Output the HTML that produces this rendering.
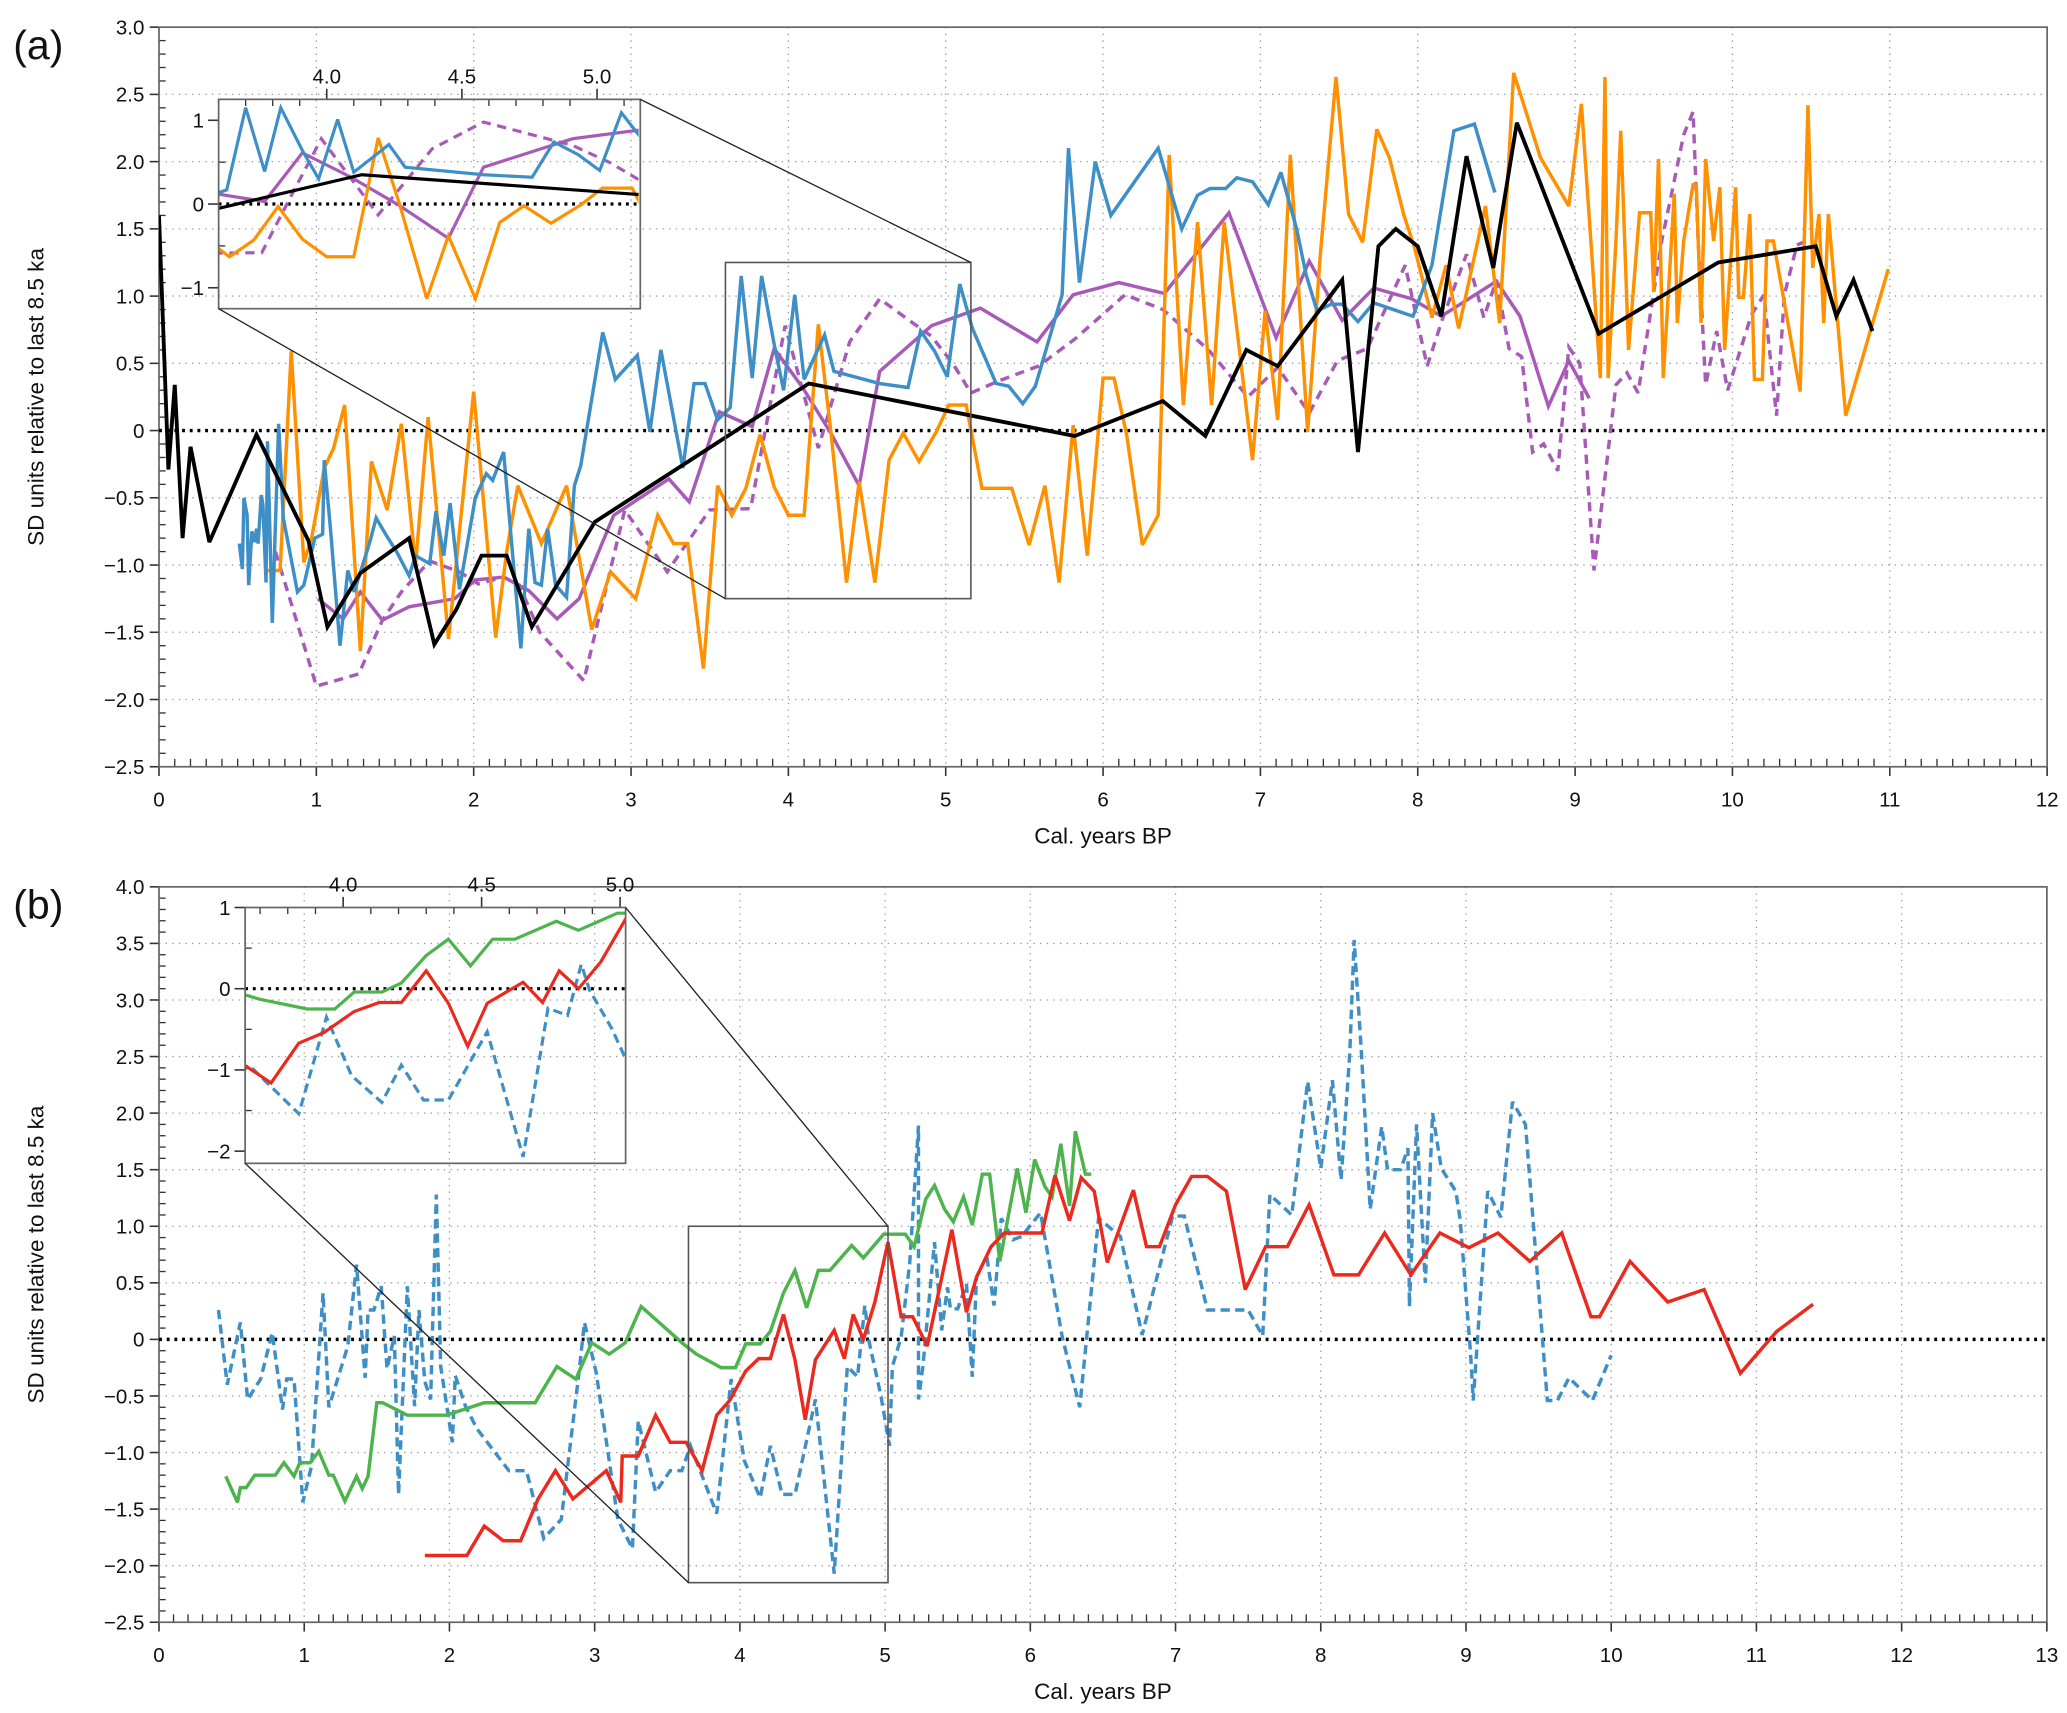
<!DOCTYPE html>
<html><head><meta charset="utf-8">
<style>
html,body{margin:0;padding:0;background:#fff;}
svg{display:block;}
text{font-family:"Liberation Sans",Arial,sans-serif;fill:#111;}
</style></head>
<body>
<svg id="chart" width="2067" height="1713" viewBox="0 0 1560 1293" preserveAspectRatio="none" xmlns="http://www.w3.org/2000/svg">
<defs>
<clipPath id="clipA"><rect x="120" y="20" width="1425" height="559"/></clipPath>
<clipPath id="clipB"><rect x="120" y="668" width="1425" height="557"/></clipPath>
<clipPath id="clipAI"><rect x="165" y="75" width="317" height="158"/></clipPath>
<clipPath id="clipBI"><rect x="185" y="685" width="287" height="193"/></clipPath>
</defs>
<g id="root"></g>
</svg>
<script>
// ---------- data: panel (a) ----------
const aXTicks = [0,1,2,3,4,5,6,7,8,9,10,11,12];
const aYTicks = [3.0,2.5,2.0,1.5,1.0,0.5,0,-0.5,-1.0,-1.5,-2.0,-2.5];
const aYLabels = ["3.0","2.5","2.0","1.5","1.0","0.5","0","\u22120.5","\u22121.0","\u22121.5","\u22122.0","\u22122.5"];
const aBlack = [[0,1.6],[0.06,-0.29],[0.1,0.34],[0.15,-0.8],[0.2,-0.12],[0.32,-0.83],[0.62,-0.03],[0.95,-0.82],[1.07,-1.46],[1.28,-1.06],[1.59,-0.8],[1.75,-1.59],[1.89,-1.33],[2.05,-0.93],[2.21,-0.93],[2.37,-1.46],[2.77,-0.68],[4.13,0.35],[5.82,-0.04],[6.38,0.22],[6.65,-0.04],[6.91,0.6],[7.11,0.48],[7.52,1.12],[7.62,-0.16],[7.75,1.37],[7.86,1.5],[8.0,1.37],[8.15,0.85],[8.31,2.04],[8.48,1.21],[8.63,2.29],[9.15,0.72],[9.91,1.25],[10.53,1.37],[10.66,0.85],[10.77,1.12],[10.89,0.74]];
const aBlue = [[0.51,-0.84],[0.53,-1.03],[0.54,-0.5],[0.56,-0.63],[0.57,-1.15],[0.59,-0.75],[0.61,-0.83],[0.62,-0.73],[0.63,-0.84],[0.65,-0.48],[0.66,-0.55],[0.68,-1.13],[0.69,-0.08],[0.72,-1.43],[0.76,0.05],[0.79,-0.65],[0.88,-1.2],[0.92,-1.15],[0.99,-0.8],[1.04,-0.77],[1.05,-0.22],[1.09,-0.73],[1.15,-1.6],[1.2,-1.04],[1.24,-1.2],[1.34,-0.83],[1.38,-0.65],[1.44,-0.77],[1.51,-0.9],[1.59,-1.08],[1.63,-0.93],[1.72,-0.99],[1.76,-0.6],[1.81,-0.93],[1.85,-0.54],[1.91,-1.18],[2.01,-0.5],[2.08,-0.32],[2.12,-0.37],[2.19,-0.16],[2.3,-1.62],[2.35,-0.73],[2.39,-1.13],[2.43,-1.15],[2.47,-0.73],[2.52,-1.15],[2.59,-1.24],[2.64,-0.41],[2.68,-0.26],[2.82,0.73],[2.9,0.38],[3.04,0.56],[3.12,-0.01],[3.19,0.6],[3.33,-0.28],[3.4,0.35],[3.47,0.35],[3.55,0.08],[3.63,0.17],[3.7,1.15],[3.77,0.39],[3.83,1.15],[3.91,0.64],[3.97,0.3],[4.04,1.01],[4.1,0.38],[4.23,0.71],[4.29,0.44],[4.58,0.35],[4.76,0.32],[4.84,0.74],[4.93,0.59],[5.01,0.4],[5.09,1.09],[5.17,0.76],[5.32,0.35],[5.4,0.33],[5.49,0.2],[5.57,0.33],[5.74,1.01],[5.78,2.1],[5.85,1.1],[5.95,2.0],[6.05,1.6],[6.35,2.1],[6.5,1.5],[6.6,1.75],[6.68,1.8],[6.78,1.8],[6.85,1.88],[6.95,1.85],[7.05,1.68],[7.13,1.92],[7.23,1.5],[7.29,1.16],[7.36,0.89],[7.45,0.94],[7.52,0.94],[7.62,0.81],[7.72,0.95],[7.97,0.85],[8.09,1.23],[8.23,2.23],[8.36,2.28],[8.49,1.77]];
const aOrange = [[0.69,-1.04],[0.77,-1.04],[0.84,0.59],[0.92,-0.98],[0.97,-0.8],[1.05,-0.28],[1.11,-0.13],[1.18,0.19],[1.28,-1.64],[1.35,-0.23],[1.45,-0.59],[1.54,0.05],[1.63,-1.0],[1.71,0.1],[1.84,-1.55],[2.0,0.29],[2.14,-1.54],[2.21,-0.9],[2.28,-0.41],[2.43,-0.84],[2.59,-0.41],[2.75,-1.48],[2.87,-1.05],[3.03,-1.25],[3.17,-0.63],[3.27,-0.84],[3.36,-0.84],[3.46,-1.77],[3.55,-0.41],[3.64,-0.63],[3.73,-0.43],[3.82,-0.03],[3.91,-0.42],[4.0,-0.63],[4.1,-0.63],[4.19,0.79],[4.27,-0.01],[4.37,-1.13],[4.45,-0.38],[4.55,-1.13],[4.64,-0.22],[4.73,-0.02],[4.83,-0.23],[4.94,-0.01],[5.02,0.19],[5.13,0.19],[5.23,-0.43],[5.42,-0.43],[5.53,-0.85],[5.63,-0.41],[5.72,-1.13],[5.81,0.04],[5.9,-0.93],[6.0,0.39],[6.07,0.39],[6.15,-0.03],[6.25,-0.85],[6.35,-0.63],[6.42,2.05],[6.51,0.19],[6.6,1.55],[6.69,0.19],[6.77,1.55],[6.95,-0.22],[7.03,0.89],[7.11,0.08],[7.19,2.05],[7.3,-0.01],[7.38,1.3],[7.48,2.63],[7.56,1.61],[7.65,1.4],[7.74,2.24],[7.82,2.03],[7.91,1.61],[7.98,1.36],[8.09,0.84],[8.18,1.23],[8.26,0.76],[8.43,1.67],[8.52,0.8],[8.61,2.66],[8.78,2.03],[8.96,1.67],[9.04,2.43],[9.16,0.39],[9.19,2.63],[9.21,0.39],[9.26,1.41],[9.29,2.23],[9.34,0.6],[9.41,1.62],[9.48,1.62],[9.5,1.03],[9.53,2.02],[9.56,0.39],[9.63,1.76],[9.65,0.8],[9.69,1.41],[9.75,1.83],[9.77,1.83],[9.8,0.8],[9.83,2.02],[9.88,1.41],[9.92,1.81],[9.95,0.6],[10.02,1.81],[10.04,0.99],[10.07,0.99],[10.11,1.61],[10.14,0.38],[10.19,0.38],[10.22,1.41],[10.26,1.41],[10.43,0.29],[10.48,2.42],[10.51,1.21],[10.55,1.61],[10.58,0.8],[10.61,1.61],[10.72,0.11],[10.99,1.2]];
const aPurple = [[1.01,-1.25],[1.17,-1.4],[1.28,-1.2],[1.42,-1.41],[1.59,-1.31],[1.88,-1.25],[2.01,-1.11],[2.19,-1.09],[2.35,-1.19],[2.53,-1.4],[2.67,-1.25],[2.89,-0.63],[3.24,-0.36],[3.37,-0.53],[3.56,0.14],[3.77,0.03],[3.91,0.61],[4.09,0.32],[4.27,-0.02],[4.45,-0.41],[4.58,0.44],[4.91,0.78],[5.22,0.91],[5.58,0.66],[5.81,1.01],[6.1,1.1],[6.39,1.02],[6.8,1.62],[7.1,0.69],[7.31,1.26],[7.52,0.82],[7.72,1.06],[7.96,0.98],[8.15,0.85],[8.5,1.11],[8.65,0.85],[8.83,0.18],[8.96,0.52],[9.09,0.24]];
const aPurpleDash = [[0.74,-0.9],[1.0,-1.9],[1.27,-1.81],[1.42,-1.41],[1.54,-1.2],[1.72,-0.97],[1.91,-1.05],[2.03,-1.14],[2.19,-1.09],[2.29,-1.15],[2.42,-1.5],[2.7,-1.86],[2.96,-0.59],[3.23,-1.05],[3.5,-0.59],[3.76,-0.58],[3.88,0.17],[3.98,0.78],[4.19,-0.13],[4.39,0.66],[4.58,0.98],[4.72,0.86],[4.91,0.7],[5.05,0.49],[5.16,0.28],[5.34,0.37],[5.59,0.48],[5.82,0.68],[6.14,1.01],[6.38,0.9],[6.67,0.6],[6.92,0.25],[7.11,0.47],[7.31,0.13],[7.49,0.52],[7.68,0.61],[7.92,1.23],[8.06,0.48],[8.16,0.84],[8.31,1.31],[8.42,0.84],[8.5,1.12],[8.58,0.61],[8.66,0.55],[8.73,-0.16],[8.8,-0.1],[8.89,-0.3],[8.96,0.62],[9.03,0.5],[9.12,-1.04],[9.26,0.34],[9.33,0.43],[9.4,0.28],[9.55,1.41],[9.62,1.8],[9.69,2.2],[9.75,2.37],[9.78,1.46],[9.83,0.34],[9.9,0.74],[9.97,0.3],[10.12,0.86],[10.2,1.01],[10.23,0.66],[10.28,0.11],[10.33,1.01],[10.41,1.38],[10.49,1.42]];
const aInsetXTicks = [4.0,4.5,5.0];
const aInsetXLabels = ["4.0","4.5","5.0"];
const aInsetYTicks = [1,0,-1];
const aInsetYLabels = ["1","0","\u22121"];
// ---------- data: panel (b) ----------
const bXTicks = [0,1,2,3,4,5,6,7,8,9,10,11,12,13];
const bYTicks = [4.0,3.5,3.0,2.5,2.0,1.5,1.0,0.5,0,-0.5,-1.0,-1.5,-2.0,-2.5];
const bYLabels = ["4.0","3.5","3.0","2.5","2.0","1.5","1.0","0.5","0","\u22120.5","\u22121.0","\u22121.5","\u22122.0","\u22122.5"];
const bGreen = [[0.46,-1.21],[0.54,-1.44],[0.56,-1.31],[0.6,-1.31],[0.66,-1.2],[0.8,-1.2],[0.86,-1.09],[0.93,-1.21],[0.97,-1.09],[1.04,-1.09],[1.1,-0.99],[1.17,-1.2],[1.2,-1.2],[1.28,-1.43],[1.36,-1.21],[1.4,-1.32],[1.44,-1.21],[1.5,-0.56],[1.54,-0.56],[1.71,-0.67],[1.98,-0.67],[2.24,-0.56],[2.59,-0.56],[2.74,-0.24],[2.87,-0.35],[2.98,-0.03],[3.1,-0.13],[3.21,-0.03],[3.32,0.29],[3.61,-0.04],[3.7,-0.13],[3.87,-0.25],[3.97,-0.25],[4.04,-0.04],[4.14,-0.04],[4.21,0.07],[4.3,0.41],[4.38,0.61],[4.46,0.28],[4.54,0.61],[4.62,0.61],[4.77,0.83],[4.85,0.72],[4.99,0.93],[5.14,0.93],[5.2,0.82],[5.28,1.24],[5.34,1.36],[5.41,1.15],[5.47,1.04],[5.54,1.26],[5.6,1.01],[5.67,1.46],[5.72,1.46],[5.79,0.69],[5.91,1.51],[5.97,1.12],[6.03,1.59],[6.1,1.35],[6.15,1.26],[6.21,1.73],[6.27,1.18],[6.31,1.84],[6.38,1.46],[6.42,1.46]];
const bRed = [[1.83,-1.91],[2.12,-1.91],[2.24,-1.65],[2.37,-1.78],[2.49,-1.78],[2.61,-1.41],[2.73,-1.16],[2.85,-1.41],[3.08,-1.16],[3.18,-1.44],[3.19,-1.03],[3.3,-1.03],[3.42,-0.67],[3.52,-0.91],[3.63,-0.91],[3.74,-1.16],[3.84,-0.67],[3.93,-0.54],[4.04,-0.28],[4.13,-0.17],[4.21,-0.17],[4.3,0.22],[4.38,-0.18],[4.45,-0.71],[4.52,-0.18],[4.65,0.08],[4.72,-0.17],[4.78,0.22],[4.85,0],[4.93,0.33],[5.02,0.86],[5.11,0.2],[5.19,0.2],[5.29,-0.06],[5.46,0.97],[5.56,0.24],[5.63,0.55],[5.73,0.82],[5.82,0.94],[6.08,0.94],[6.17,1.45],[6.27,1.05],[6.35,1.43],[6.44,1.31],[6.53,0.68],[6.71,1.32],[6.8,0.82],[6.89,0.82],[7.0,1.19],[7.11,1.44],[7.22,1.44],[7.35,1.31],[7.48,0.44],[7.62,0.82],[7.77,0.82],[7.92,1.19],[8.09,0.57],[8.26,0.57],[8.44,0.94],[8.62,0.57],[8.82,0.94],[9.02,0.81],[9.22,0.94],[9.44,0.69],[9.66,0.94],[9.86,0.2],[9.92,0.2],[10.13,0.69],[10.39,0.33],[10.64,0.44],[10.89,-0.3],[11.14,0.07],[11.39,0.31]];
const bBlueDash = [[0.41,0.26],[0.47,-0.4],[0.56,0.15],[0.61,-0.53],[0.7,-0.35],[0.78,0.06],[0.85,-0.62],[0.88,-0.35],[0.93,-0.35],[0.99,-1.44],[1.05,-1.12],[1.13,0.41],[1.17,-0.6],[1.3,-0.06],[1.36,0.66],[1.42,-0.34],[1.44,0.26],[1.48,0.26],[1.53,0.47],[1.57,-0.26],[1.62,0.03],[1.65,-1.37],[1.71,0.47],[1.76,-0.59],[1.79,0.26],[1.83,-0.37],[1.87,-0.53],[1.91,1.28],[1.94,-0.24],[2.02,-0.91],[2.04,-0.32],[2.11,-0.59],[2.19,-0.79],[2.41,-1.16],[2.53,-1.16],[2.65,-1.76],[2.77,-1.59],[2.89,-0.32],[2.93,0.15],[3.01,-0.29],[3.16,-1.59],[3.26,-1.85],[3.3,-0.72],[3.42,-1.35],[3.52,-1.16],[3.6,-1.16],[3.66,-0.94],[3.84,-1.54],[3.94,-0.35],[4.03,-1.07],[4.14,-1.4],[4.21,-0.94],[4.29,-1.37],[4.38,-1.37],[4.52,-0.53],[4.65,-2.07],[4.74,-0.24],[4.81,-0.33],[4.86,0.3],[4.89,-0.02],[4.97,-0.49],[5.03,-0.94],[5.05,-0.24],[5.11,0.02],[5.17,0.68],[5.23,1.89],[5.23,-0.53],[5.26,-0.24],[5.34,0.86],[5.39,0.08],[5.43,0.46],[5.45,0.27],[5.5,0.27],[5.56,0.49],[5.6,-0.33],[5.63,0.55],[5.7,0.74],[5.75,0.3],[5.8,1.07],[5.88,0.88],[5.94,0.91],[6.07,1.12],[6.22,0.02],[6.34,-0.6],[6.47,1.07],[6.62,0.91],[6.77,0.04],[6.98,1.09],[7.06,1.09],[7.22,0.26],[7.5,0.26],[7.6,0.03],[7.65,1.28],[7.8,1.1],[7.91,2.28],[8.0,1.51],[8.08,2.29],[8.14,1.41],[8.2,2.53],[8.23,3.53],[8.28,2.53],[8.34,1.15],[8.42,1.88],[8.46,1.5],[8.55,1.5],[8.6,1.69],[8.61,0.29],[8.66,1.9],[8.72,0.5],[8.77,2.0],[8.83,1.51],[8.93,1.31],[8.96,1.06],[9.03,-0.1],[9.05,-0.54],[9.15,1.31],[9.24,1.08],[9.32,2.1],[9.41,1.9],[9.56,-0.54],[9.63,-0.54],[9.71,-0.34],[9.87,-0.54],[10.0,-0.14]];
const bInsetXTicks = [4.0,4.5,5.0];
const bInsetXLabels = ["4.0","4.5","5.0"];
const bInsetYTicks = [1,0,-1,-2];
const bInsetYLabels = ["1","0","\u22121","\u22122"];

// ---------- axis functions ----------
const aX = x => 120 + x * 118.75;
const aY = v => 325 - v * 101.5;
const bX = x => 120 + x * 109.6;
const bY = v => 1011 - v * 85.4;
const aiX = x => 165 + (x - 3.6) * 204;
const aiY = v => 154 - v * 63.2;
const biX = x => 185 + (x - 3.646) * 209;
const biY = v => 685 + (1 - v) * 61.3;

const NS = "http://www.w3.org/2000/svg";
const root = document.getElementById("root");
function mk(tag, attrs, parent) {
  const e = document.createElementNS(NS, tag);
  for (const k in attrs) e.setAttribute(k, attrs[k]);
  (parent || root).appendChild(e);
  return e;
}
function line(x1, y1, x2, y2, stroke, sw, dash, parent) {
  const l = mk("line", {x1, y1, x2, y2, stroke, "stroke-width": sw}, parent);
  if (dash) l.setAttribute("stroke-dasharray", dash);
  return l;
}
function txt(x, y, s, size, anchor, parent) {
  const t = mk("text", {x, y, "font-size": size, "text-anchor": anchor || "middle"}, parent);
  t.textContent = s;
  return t;
}
function series(data, fx, fy, color, dash, name, parent, sw) {
  const d = data.map((p, i) => (i ? "L" : "M") + fx(p[0]).toFixed(1) + "," + fy(p[1]).toFixed(1)).join(" ");
  const p = mk("path", {d, fill: "none", stroke: color, "stroke-width": sw || 2.6, "stroke-linejoin": "miter", "stroke-miterlimit": 3}, parent);
  if (dash) p.setAttribute("stroke-dasharray", dash);
  
  
  return p;
}

const C_OR = "#ff9000", C_BL = "#3e8fc6", C_PU = "#a75bb7", C_GR = "#4db34d", C_RD = "#ea2a1e";

function panel(cfg) {
  const g = mk("g", {});
  
  
  const {X, Y, x0, x1, y0, y1} = cfg;
  const L = X(x0), R = X(x1), T = Y(y1), B = Y(y0);
  cfg.xTicks.forEach(t => { if (t > x0 && t < x1) line(X(t), T, X(t), B, "#9a9a9a", 1, "1,4", g); });
  cfg.yTicks.forEach(t => { if (t > y0 && t < y1 && t !== 0) line(L, Y(t), R, Y(t), "#9a9a9a", 1, "1,4", g); });
  for (let i = Math.round(x0 * 10); i <= Math.round(x1 * 10); i++) {
    const x = X(i / 10);
    if (i % 10 === 0) line(x, B, x, B + 7, "#333", 1.2, null, g);
    else line(x, B, x, B - 6, "#333", 1, null, g);
  }
  for (let i = Math.round(y0 * 10); i <= Math.round(y1 * 10); i++) {
    const y = Y(i / 10);
    if (i % 5 === 0) line(L - 7, y, L, y, "#333", 1.2, null, g);
    else line(L, y, L + 5, y, "#333", 1, null, g);
  }
  const fr = mk("rect", {x: L, y: T, width: R - L, height: B - T, fill: "none", stroke: "#666", "stroke-width": 1.3}, g);
  
  
  cfg.xTicks.forEach(t => {
    const e = txt(X(t), B + 30, String(t), 15.5, "middle", g);
    
    
  });
  cfg.yTicks.forEach((t, i) => {
    const e = txt(L - 11, Y(t) + 5.5, cfg.yLabels[i], 15.5, "end", g);
    
    
  });
  const xt = txt((L + R) / 2, B + 58, "Cal. years BP", 17, "middle", g);
  
  
  const yt = txt(0, 0, "SD units relative to last 8.5 ka", 17, "middle", g);
  yt.setAttribute("transform", "translate(33," + ((T + B) / 2) + ") rotate(-90)");
  
  
  const pl = txt(10, T + 24, cfg.label, 31, "start", g);
  
  
  const z = line(L, Y(0), R, Y(0), "#000", 2.6, "2.2,3.6", g);
  
  
  return g;
}

function inset(cfg) {
  const g = mk("g", {});
  
  
  const {X, Y, x0, x1, y0, y1} = cfg;
  const L = X(x0), R = X(x1), T = Y(y1), B = Y(y0);
  for (let i = Math.ceil(x0 * 10); i <= Math.floor(x1 * 10); i++) {
    const x = X(i / 10);
    if (i % 5 === 0) line(x, T - 8, x, T, "#333", 1.2, null, g);
    else line(x, T, x, T + 5, "#333", 1, null, g);
  }
  for (let i = Math.ceil(y0 * 2); i <= Math.floor(y1 * 2); i++) {
    const y = Y(i / 2);
    if (i % 2 === 0) line(L - 8, y, L, y, "#333", 1.2, null, g);
    else line(L, y, L + 5, y, "#333", 1, null, g);
  }
  cfg.xTicks.forEach((t, i) => txt(X(t), T - 12, cfg.xLabels[i], 15.5, "middle", g));
  cfg.yTicks.forEach((t, i) => txt(L - 11, Y(t) + 5.5, cfg.yLabels[i], 15.5, "end", g));
  line(L, Y(0), R, Y(0), "#000", 2.4, "2.2,3.6", g);
  const dg = mk("g", {"clip-path": "url(#" + cfg.clip + ")"}, g);
  cfg.series.forEach(s => series(s[0], X, Y, s[1], s[2], s[3] + "-inset", dg, 2.4));
  mk("rect", {x: L, y: T, width: R - L, height: B - T, fill: "none", stroke: "#666", "stroke-width": 1.3}, g);
  return {L, R, T, B};
}

// ---------- panel a ----------
panel({name: "panel-a", X: aX, Y: aY, x0: 0, x1: 12, y0: -2.5, y1: 3.0, xTicks: aXTicks, yTicks: aYTicks, yLabels: aYLabels, label: "(a)"});
const gA = mk("g", {"clip-path": "url(#clipA)"});


series(aPurpleDash, aX, aY, C_PU, "7,5", "purple-dashed-series-a", gA);
series(aPurple, aX, aY, C_PU, null, "purple-series-a", gA);
series(aOrange, aX, aY, C_OR, null, "orange-series-a", gA);
series(aBlue, aX, aY, C_BL, null, "blue-series-a", gA);
series(aBlack, aX, aY, "#000", null, "black-series-a", gA, 2.9);
const zaL = aX(3.6), zaR = aX(5.16), zaT = aY(1.25), zaB = aY(-1.25);
const za = mk("rect", {x: zaL, y: zaT, width: zaR - zaL, height: zaB - zaT, fill: "none", stroke: "#555", "stroke-width": 1.2});


const ia = inset({name: "inset-a", X: aiX, Y: aiY, x0: 3.6, x1: 5.16, y0: -1.25, y1: 1.25, clip: "clipAI",
  xTicks: aInsetXTicks, xLabels: aInsetXLabels, yTicks: aInsetYTicks, yLabels: aInsetYLabels,
  series: [[aPurpleDash, C_PU, "7,5", "purple-dashed"], [aPurple, C_PU, null, "purple"], [aOrange, C_OR, null, "orange"], [aBlue, C_BL, null, "blue"], [aBlack, "#000", null, "black"]]});
line(ia.L, ia.B, zaL, zaB, "#222", 1);
line(ia.R, ia.T, zaR, zaT, "#222", 1);

// ---------- panel b ----------
panel({name: "panel-b", X: bX, Y: bY, x0: 0, x1: 13, y0: -2.5, y1: 4.0, xTicks: bXTicks, yTicks: bYTicks, yLabels: bYLabels, label: "(b)"});
const gB = mk("g", {"clip-path": "url(#clipB)"});


series(bBlueDash, bX, bY, C_BL, "7,4", "blue-dashed-series-b", gB);
series(bGreen, bX, bY, C_GR, null, "green-series-b", gB);
series(bRed, bX, bY, C_RD, null, "red-series-b", gB);
const zbL = bX(3.646), zbR = bX(5.02), zbT = bY(1.0), zbB = bY(-2.15);
const zb = mk("rect", {x: zbL, y: zbT, width: zbR - zbL, height: zbB - zbT, fill: "none", stroke: "#555", "stroke-width": 1.2});


const ib = inset({name: "inset-b", X: biX, Y: biY, x0: 3.646, x1: 5.02, y0: -2.15, y1: 1.0, clip: "clipBI",
  xTicks: bInsetXTicks, xLabels: bInsetXLabels, yTicks: bInsetYTicks, yLabels: bInsetYLabels,
  series: [[bBlueDash, C_BL, "7,4", "blue-dashed"], [bGreen, C_GR, null, "green"], [bRed, C_RD, null, "red"]]});
line(ib.L, ib.B, zbL, zbB, "#222", 1);
line(ib.R, ib.T, zbR, zbT, "#222", 1);
</script>
</body></html>
